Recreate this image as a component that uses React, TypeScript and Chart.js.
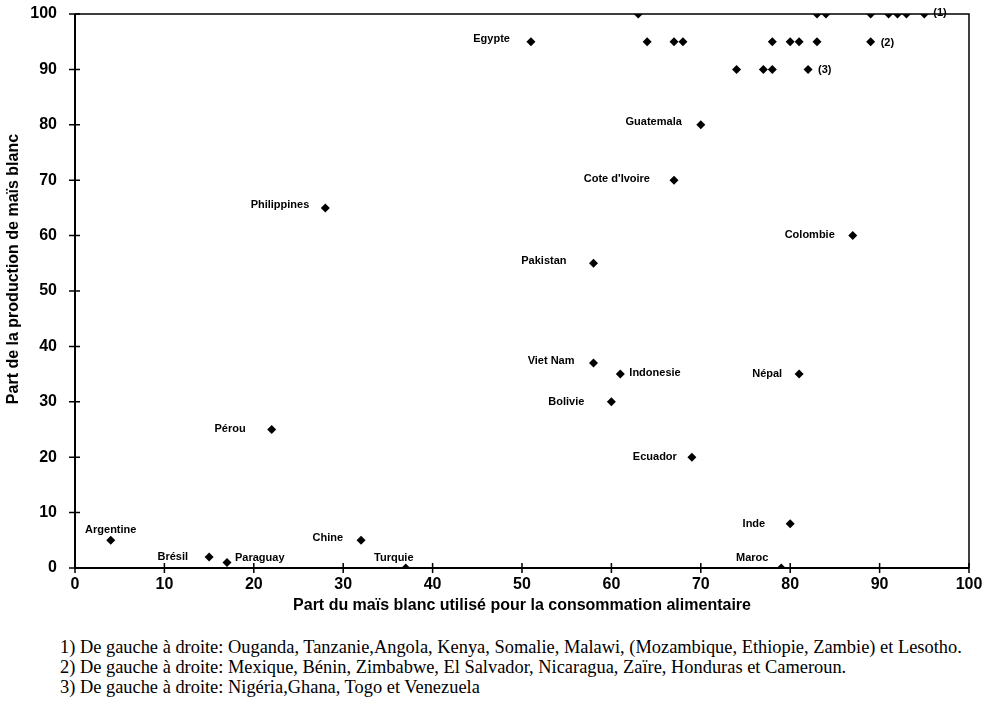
import React, { useEffect, useRef } from "react";
import { Chart, registerables } from "chart.js";

Chart.register(...registerables);

// ---- data ----
const xValues: number[] = [
  63, 83, 84, 89, 91, 92, 93, 95,
  51, 64, 67, 68, 78, 80, 81, 83, 89,
  74, 77, 78, 82,
  70, 67, 87, 28, 58, 58, 61, 81, 60, 22, 69, 80, 4, 15, 17, 32, 37, 79,
];
const yValues: number[] = [
  100, 100, 100, 100, 100, 100, 100, 100,
  95, 95, 95, 95, 95, 95, 95, 95, 95,
  90, 90, 90, 90,
  80, 70, 60, 65, 55, 37, 35, 35, 30, 25, 20, 8, 5, 2, 1, 5, 0, 0,
];
const pointLabels: string[] = [
  "", "", "", "", "", "", "", "(1)",
  "Egypte", "", "", "", "", "", "", "", "(2)",
  "", "", "", "(3)",
  "Guatemala", "Cote d'Ivoire", "Colombie", "Philippines", "Pakistan", "Viet Nam",
  "Indonesie", "Népal", "Bolivie", "Pérou", "Ecuador", "Inde", "Argentine",
  "Brésil", "Paraguay", "Chine", "Turquie", "Maroc",
];
const xTicks: number[] = [0, 10, 20, 30, 40, 50, 60, 70, 80, 90, 100];
const yTicks: number[] = [0, 10, 20, 30, 40, 50, 60, 70, 80, 90, 100];
const xTitle = "Part du maïs blanc utilisé pour la consommation alimentaire";
const yTitle = "Part de la production de maïs blanc";
const footnotes: string[] = [
  "1) De gauche à droite: Ouganda, Tanzanie,Angola, Kenya, Somalie, Malawi, (Mozambique, Ethiopie, Zambie) et Lesotho.",
  "2) De gauche à droite: Mexique, Bénin, Zimbabwe, El Salvador, Nicaragua, Zaïre, Honduras et Cameroun.",
  "3) De gauche à droite: Nigéria,Ghana, Togo et Venezuela",
];

// ---- label placement (style): [dx, dy, align] relative to the marker ----
const labelPlacement: Record<string, [number, number, CanvasTextAlign]> = {
  "(1)": [9, -1, "left"],
  "(2)": [10, 1, "left"],
  "(3)": [10, 1, "left"],
  Egypte: [-21, -3, "right"],
  Guatemala: [-19, -3, "right"],
  "Cote d'Ivoire": [-24, -1, "right"],
  Colombie: [-18, -1, "right"],
  Philippines: [-16, -3, "right"],
  Pakistan: [-27, -2, "right"],
  "Viet Nam": [-19, -2, "right"],
  Indonesie: [9, -1, "left"],
  "Népal": [-17, 0, "right"],
  Bolivie: [-27, 0, "right"],
  "Pérou": [-26, -1, "right"],
  Ecuador: [-15, 0, "right"],
  Inde: [-25, 0, "right"],
  Argentine: [0, -10, "center"],
  "Brésil": [-21, 0, "right"],
  Paraguay: [8, -4, "left"],
  Chine: [-18, -2, "right"],
  Turquie: [-12, -10, "center"],
  Maroc: [-29, -10, "center"],
};

const SANS = "'Liberation Sans', Arial, sans-serif";

const decorPlugin = {
  id: "decor",
  afterDatasetsDraw(chart: any) {
    const { ctx, chartArea } = chart;
    const xs = chart.scales.x;
    const ys = chart.scales.y;
    ctx.save();
    ctx.strokeStyle = "#000";
    // frame top & right
    ctx.lineWidth = 1.5;
    ctx.beginPath();
    ctx.moveTo(chartArea.left, chartArea.top);
    ctx.lineTo(chartArea.right, chartArea.top);
    ctx.lineTo(chartArea.right, chartArea.bottom);
    ctx.stroke();
    // axes
    ctx.lineWidth = 2;
    ctx.beginPath();
    ctx.moveTo(chartArea.left, chartArea.top);
    ctx.lineTo(chartArea.left, chartArea.bottom);
    ctx.lineTo(chartArea.right, chartArea.bottom);
    ctx.stroke();
    // crossing ticks
    ctx.lineWidth = 1.5;
    ctx.beginPath();
    xTicks.forEach((v) => {
      const px = xs.getPixelForValue(v);
      ctx.moveTo(px, chartArea.bottom - 5);
      ctx.lineTo(px, chartArea.bottom + 5);
    });
    yTicks.forEach((v) => {
      const py = ys.getPixelForValue(v);
      ctx.moveTo(chartArea.left - 6, py);
      ctx.lineTo(chartArea.left + 5, py);
    });
    ctx.stroke();

    // point labels
    const meta = chart.getDatasetMeta(0);
    ctx.fillStyle = "#000";
    ctx.font = `bold 11px ${SANS}`;
    ctx.textBaseline = "middle";
    pointLabels.forEach((lab, i) => {
      if (!lab) return;
      const el = meta.data[i];
      const pl = labelPlacement[lab] || [-18, 0, "right"];
      ctx.textAlign = pl[2];
      ctx.fillText(lab, el.x + pl[0], el.y + pl[1]);
    });

    // y axis title
    ctx.font = `bold 16px ${SANS}`;
    ctx.textAlign = "center";
    ctx.textBaseline = "middle";
    ctx.translate(14, 269);
    ctx.rotate(-Math.PI / 2);
    ctx.fillText(yTitle, 0, 0);
    ctx.restore();
  },
};

export default function App() {
  const ref = useRef<HTMLCanvasElement | null>(null);
  useEffect(() => {
    if (!ref.current) return;
    const chart = new Chart(ref.current, {
      type: "scatter",
      data: {
        datasets: [
          {
            data: xValues.map((x, i) => ({ x, y: yValues[i] })),
            pointStyle: "rectRot",
            pointRadius: 4.5,
            pointHoverRadius: 4.5,
            backgroundColor: "#000",
            borderColor: "#000",
            borderWidth: 0,
          },
        ],
      },
      options: {
        animation: false,
        responsive: false,
        devicePixelRatio: 1,
        layout: { padding: { top: 14, right: 21, left: 0, bottom: 0 } },
        plugins: {
          legend: { display: false },
          tooltip: { enabled: false },
          title: { display: false },
        },
        scales: {
          x: {
            type: "linear",
            min: 0,
            max: 100,
            afterFit: (s: any) => {
              s.height = 62;
              s.paddingLeft = 0;
              s.paddingRight = 0;
            },
            afterBuildTicks: (s: any) => {
              s.ticks = xTicks.map((v) => ({ value: v }));
            },
            grid: { display: false, drawTicks: false },
            border: { display: false },
            ticks: {
              color: "#000",
              font: { family: SANS, size: 16, weight: "bold" },
              padding: 7,
              maxRotation: 0,
            },
            title: {
              display: true,
              text: xTitle,
              color: "#000",
              font: { family: SANS, size: 16, weight: "bold" },
              padding: { top: 0, bottom: 15 },
            },
          },
          y: {
            type: "linear",
            min: 0,
            max: 100,
            afterFit: (s: any) => {
              s.width = 75;
              s.paddingTop = 0;
              s.paddingBottom = 0;
            },
            afterBuildTicks: (s: any) => {
              s.ticks = yTicks.map((v) => ({ value: v }));
            },
            grid: { display: false, drawTicks: false },
            border: { display: false },
            ticks: {
              color: "#000",
              font: { family: SANS, size: 16, weight: "bold" },
              padding: 18,
            },
          },
        },
      },
      plugins: [decorPlugin],
    } as any);
    return () => chart.destroy();
  }, []);

  return (
    <div style={{ position: "absolute", left: 0, top: 0, width: 990, height: 705, background: "#fff" }}>
      <canvas ref={ref} width={990} height={630} style={{ display: "block", width: 990, height: 630 }} />
      <div
        style={{
          position: "absolute",
          left: 60,
          top: 637,
          fontFamily: "'Liberation Serif', 'Times New Roman', serif",
          fontSize: 18.4,
          lineHeight: "20px",
          color: "#000",
          whiteSpace: "nowrap",
        }}
      >
        {footnotes.map((f, i) => (
          <div key={i}>{f}</div>
        ))}
      </div>
    </div>
  );
}
